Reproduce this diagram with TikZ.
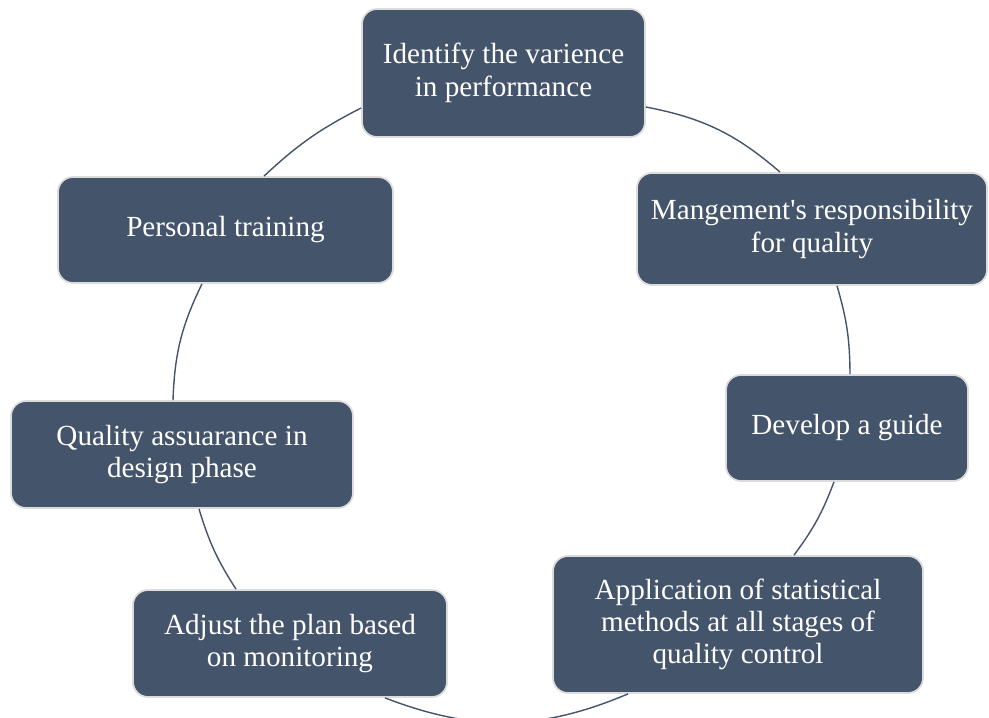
\documentclass[tikz,border=0pt]{standalone}
\usepackage{fontspec}
\setmainfont{Liberation Serif}
\definecolor{slate}{HTML}{44546A}
\definecolor{rim}{HTML}{DCDCDC}

\begin{document}
\begin{tikzpicture}[
  stage/.style={draw=rim, line width=1pt, fill=slate, text=white, rounded corners=0.3cm,
    align=center, inner sep=2pt, font=\fontsize{16.6}{18.4}\selectfont},
  link/.style={draw=slate, line width=0.8pt},
]
\clip (0,0) rectangle (19.78,-14.36);

% steps of the cycle
\node[stage, minimum width=5.66cm, minimum height=2.56cm] (ident) at (10.07,-1.46) {Identify the varience\\in performance};
\node[stage, minimum width=7.0cm, minimum height=2.24cm] (mgmt) at (16.24,-4.58) {Mangement\textquotesingle s responsibility\\for quality};
\node[stage, minimum width=4.84cm, minimum height=2.12cm] (guide) at (16.94,-8.56) {Develop a guide};
\node[stage, minimum width=7.4cm, minimum height=2.74cm] (stats) at (14.76,-12.49) {Application of statistical\\methods at all stages of\\quality control};
\node[stage, minimum width=6.28cm, minimum height=2.14cm] (adjust) at (5.80,-12.87) {Adjust the plan based\\on monitoring};
\node[stage, minimum width=6.84cm, minimum height=2.14cm] (design) at (3.64,-9.09) {Quality assuarance in\\design phase};
\node[stage, minimum width=6.7cm, minimum height=2.12cm] (train) at (4.51,-4.60) {Personal training};

% arcs
\draw[link] ([xshift=0.77cm]train.north) to[bend left=8] ([yshift=-0.7cm]ident.west);
\draw[link] ([yshift=-0.68cm]ident.east) to[bend left=15] ([xshift=-0.64cm]mgmt.north);
\draw[link] ([xshift=0.5cm]mgmt.south) to[bend left=8] ([xshift=0.06cm]guide.north);
\draw[link] ([xshift=-0.26cm]guide.south) to[bend left=8] ([xshift=1.12cm]stats.north);
\draw[link] ([xshift=-2.2cm]stats.south) to[bend left=22] ([xshift=1.9cm]adjust.south);
\draw[link] ([xshift=-1.08cm]adjust.north) to[bend left=8] ([xshift=0.34cm]design.south);
\draw[link] ([xshift=-0.18cm]design.north) to[bend left=12] ([xshift=-0.47cm]train.south);

\end{tikzpicture}
\end{document}
